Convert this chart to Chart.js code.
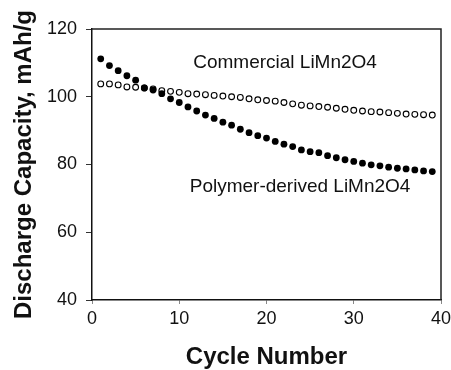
<!DOCTYPE html>
<html>
<head>
<meta charset="utf-8">
<script src="https://cdn.jsdelivr.net/npm/chart.js@4/dist/chart.umd.min.js"></script>
<style>
    body { margin: 0; background: #fff; }
    canvas { display: block; }
</style>
</head>
<body>
<canvas id="capacity-chart" width="451" height="370"></canvas>
<script>
const cycles = [];
for (let i = 1; i <= 39; i++) cycles.push(i);

// discharge capacity, mAh/g
const polymerDerived = [
    111.2, 109.2, 107.7, 106.2, 104.9, 102.6, 102.0, 100.9, 99.4, 98.3,
    97.0, 95.8, 94.6, 93.6, 92.5, 91.6, 90.4, 89.4, 88.5, 87.8,
    86.8, 86.0, 85.3, 84.3, 83.8, 83.5, 82.6, 82.0, 81.4, 80.9,
    80.4, 79.9, 79.6, 79.2, 78.9, 78.7, 78.4, 78.1, 77.9
];
const commercial = [
    103.8, 103.8, 103.5, 102.9, 102.8, 102.6, 102.3, 101.8, 101.6, 101.3,
    100.9, 100.8, 100.6, 100.4, 100.2, 100.0, 99.8, 99.4, 99.1, 98.9,
    98.7, 98.3, 97.9, 97.5, 97.3, 97.1, 96.9, 96.6, 96.3, 96.0,
    95.8, 95.6, 95.5, 95.3, 95.1, 94.9, 94.8, 94.7, 94.6
];

const xTicks = [0, 10, 20, 30, 40];
const yTicks = [40, 60, 80, 100, 120];

// series labels written inside the plot, placed in data units
const seriesLabels = [
    { text: 'Commercial LiMn2O4', x: 11.6, y: 110.0 },
    { text: 'Polymer-derived LiMn2O4', x: 11.2, y: 73.4 }
];

const FONT = "'Liberation Sans', Arial, sans-serif";

const toPoints = (values) => values.map((v, i) => ({ x: cycles[i], y: v }));

// box around the plot plus the in-plot series labels
const frameAndLabels = {
    id: 'frameAndLabels',
    afterDraw(chart) {
        const { ctx, chartArea: a, scales } = chart;
        ctx.save();
        ctx.strokeStyle = '#222';
        ctx.lineWidth = 1.5;
        ctx.beginPath();
        ctx.moveTo(a.left, a.top);
        ctx.lineTo(a.right, a.top);
        ctx.lineTo(a.right, a.bottom);
        ctx.stroke();

        ctx.fillStyle = '#111';
        ctx.font = '19px ' + FONT;
        ctx.textBaseline = 'middle';
        ctx.textAlign = 'left';
        seriesLabels.forEach(l => {
            ctx.fillText(l.text, scales.x.getPixelForValue(l.x), scales.y.getPixelForValue(l.y));
        });
        ctx.restore();
    }
};

const ctx = document.getElementById('capacity-chart').getContext('2d');

new Chart(ctx, {
    type: 'scatter',
    data: {
        datasets: [
            {
                label: 'Polymer-derived LiMn2O4',
                data: toPoints(polymerDerived),
                pointRadius: 3.4,
                pointBackgroundColor: '#000',
                pointBorderColor: '#000',
                pointBorderWidth: 0
            },
            {
                label: 'Commercial LiMn2O4',
                data: toPoints(commercial),
                pointRadius: 2.9,
                pointBackgroundColor: '#fff',
                pointBorderColor: '#000',
                pointBorderWidth: 1.1
            }
        ]
    },
    options: {
        responsive: false,
        animation: false,
        layout: { padding: { left: 0, right: 0, top: 29, bottom: 0 } },
        plugins: {
            legend: { display: false },
            tooltip: { enabled: false }
        },
        scales: {
            x: {
                type: 'linear',
                min: 0,
                max: 40,
                afterBuildTicks: (scale) => { scale.ticks = xTicks.map(v => ({ value: v })); },
                afterFit: (scale) => {
                    scale.height = 70;
                    scale.paddingRight = 10;
                },
                grid: {
                    drawOnChartArea: false,
                    tickLength: 4,
                    tickColor: '#888',
                    tickWidth: 1
                },
                border: { color: '#111', width: 1.5 },
                ticks: {
                    color: '#111',
                    padding: 4,
                    font: { family: FONT, size: 18 }
                },
                title: {
                    display: true,
                    text: 'Cycle Number',
                    color: '#111',
                    padding: { top: 0, bottom: 1 },
                    font: { family: FONT, size: 24, weight: 'bold', lineHeight: 1 }
                }
            },
            y: {
                type: 'linear',
                min: 40,
                max: 120,
                afterBuildTicks: (scale) => { scale.ticks = yTicks.map(v => ({ value: v })); },
                afterFit: (scale) => { scale.width = 92; },
                grid: {
                    drawOnChartArea: false,
                    tickLength: 6,
                    tickColor: '#333',
                    tickWidth: 1
                },
                border: { color: '#111', width: 1.5 },
                ticks: {
                    color: '#111',
                    padding: 9,
                    font: { family: FONT, size: 18 }
                },
                title: {
                    display: true,
                    text: 'Discharge Capacity, mAh/g',
                    color: '#111',
                    padding: { top: 12, bottom: 0 },
                    font: { family: FONT, size: 24, weight: 'bold', lineHeight: 1 }
                }
            }
        }
    },
    plugins: [frameAndLabels]
});
</script>
</body>
</html>
